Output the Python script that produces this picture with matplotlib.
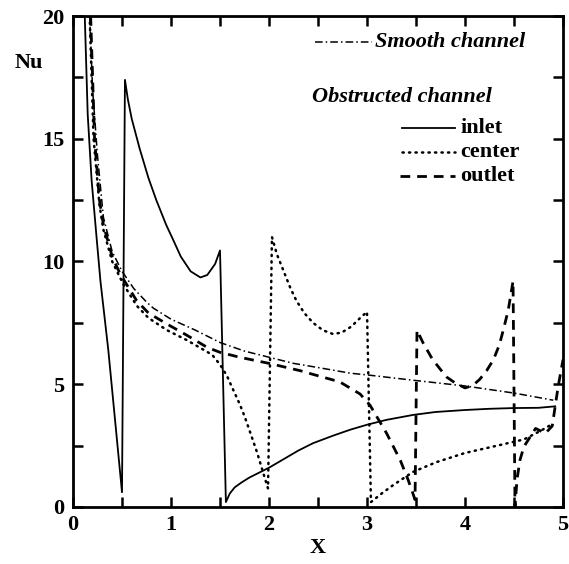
import matplotlib
matplotlib.use("Agg")
import matplotlib.pyplot as plt
from matplotlib.lines import Line2D
from matplotlib.ticker import MultipleLocator

plt.rcParams['font.family'] = ['Liberation Serif', 'DejaVu Serif']
plt.rcParams['font.weight'] = 'bold'

# ---- data ----
smooth_x = [0.17, 0.20, 0.25, 0.31, 0.40, 0.50, 0.62, 0.75, 0.82, 1.00, 1.25, 1.50,
            1.75, 2.00, 2.25, 2.50, 2.83, 3.00, 3.50, 4.00, 4.50, 4.90]
smooth_y = [20.0, 17.0, 14.3, 11.8, 10.4, 9.6, 8.9, 8.35, 8.1, 7.65, 7.2, 6.7,
            6.35, 6.1, 5.85, 5.68, 5.45, 5.38, 5.15, 4.93, 4.64, 4.35]

inlet_x = [0.12, 0.15, 0.19, 0.24, 0.28, 0.36, 0.50, 0.53, 0.56, 0.60, 0.68, 0.77,
           0.85, 0.95, 1.02, 1.10, 1.20, 1.30, 1.37, 1.45, 1.50, 1.56, 1.60, 1.65,
           1.72, 1.80, 1.90, 2.00, 2.15, 2.30, 2.45, 2.65, 2.83, 3.00, 3.20, 3.47,
           3.70, 4.00, 4.25, 4.50, 4.75, 4.92]
inlet_y = [20.0, 16.0, 13.3, 11.0, 9.2, 6.4, 0.6, 17.4, 16.6, 15.8, 14.6, 13.4,
           12.5, 11.5, 10.9, 10.2, 9.6, 9.35, 9.45, 9.9, 10.45, 0.2, 0.55, 0.8,
           1.0, 1.2, 1.4, 1.6, 1.95, 2.3, 2.6, 2.9, 3.15, 3.35, 3.55, 3.75,
           3.87, 3.95, 4.0, 4.03, 4.04, 4.1]

center_x = [0.17, 0.21, 0.27, 0.31, 0.40, 0.51, 0.65, 0.77, 0.96, 1.16, 1.42, 1.50,
            1.57, 1.62, 1.70, 1.75, 1.82, 1.88, 1.94, 1.99, 2.03, 2.08, 2.15, 2.22,
            2.28, 2.36, 2.45, 2.55, 2.65, 2.74, 2.84, 2.93, 3.00, 3.04, 3.15, 3.27,
            3.47, 3.71, 4.00, 4.33, 4.60, 4.77, 4.90]
center_y = [20.0, 15.0, 12.3, 11.3, 10.0, 9.1, 8.2, 7.7, 7.2, 6.8, 6.2, 5.8,
            5.35, 4.9, 4.2, 3.7, 2.9, 2.2, 1.4, 0.75, 11.0, 10.3, 9.6, 8.9,
            8.4, 7.9, 7.5, 7.2, 7.05, 7.1, 7.35, 7.7, 7.95, 0.2, 0.55, 0.9,
            1.43, 1.83, 2.2, 2.5, 2.75, 3.1, 3.4]

outlet_x = [0.18, 0.22, 0.27, 0.31, 0.40, 0.48, 0.65, 0.77, 0.96, 1.16, 1.37, 1.50,
            1.70, 2.00, 2.32, 2.45, 2.72, 2.93, 3.03, 3.20, 3.34, 3.42, 3.49, 3.51,
            3.57, 3.67, 3.75, 3.81, 3.90, 4.00, 4.08, 4.15, 4.22, 4.29, 4.35, 4.39,
            4.44, 4.49, 4.51, 4.53, 4.56, 4.60, 4.72, 4.82, 4.89, 4.92, 4.95, 5.00]
outlet_y = [20.0, 15.0, 12.5, 11.5, 10.2, 9.5, 8.4, 7.9, 7.45, 7.0, 6.5, 6.3,
            6.1, 5.85, 5.55, 5.4, 5.1, 4.6, 4.15, 3.0, 1.9, 1.1, 0.3, 7.2,
            6.7, 6.0, 5.6, 5.3, 5.05, 4.85, 4.95, 5.2, 5.55, 6.0, 6.6, 7.2,
            8.0, 9.2, 0.0, 1.1, 1.9, 2.45, 3.2, 3.0, 3.3, 4.1, 4.9, 6.0]

x_ticks = [0, 1, 2, 3, 4, 5]
y_ticks = [0, 5, 10, 15, 20]

fig = plt.figure(figsize=(5.69, 5.64), dpi=100)
ax = fig.add_axes([0.1283, 0.1011, 0.8612, 0.8705])

lw = 1.3
smooth_style = dict(color='black', lw=1.1, dashes=(5, 2, 1, 2))
inlet_style = dict(color='black', lw=lw, linestyle='-')
center_style = dict(color='black', lw=1.8, dashes=(0.5, 2.1), dash_capstyle='round')
outlet_style = dict(color='black', lw=2.0, dashes=(3.5, 2.5))

ax.plot(smooth_x, smooth_y, **smooth_style)
ax.plot(inlet_x, inlet_y, **inlet_style)
ax.plot(center_x, center_y, **center_style)
ax.plot(outlet_x, outlet_y, **outlet_style)

ax.set_xlim(0, 5)
ax.set_ylim(0, 20)
ax.set_xticks(x_ticks)
ax.set_yticks(y_ticks)
ax.xaxis.set_minor_locator(MultipleLocator(0.5))
ax.yaxis.set_minor_locator(MultipleLocator(2.5))
ax.tick_params(which='both', direction='in', top=True, right=True,
               length=7, width=1.8, labelsize=16, pad=6)
for s in ax.spines.values():
    s.set_linewidth(2.0)

ax.set_xlabel('X', fontsize=16, fontweight='bold', labelpad=2)
ax.text(-0.062, 0.905, 'Nu', transform=ax.transAxes, fontsize=16,
        fontweight='bold', ha='right', va='center')

# legend (manual layout)
tr = ax.transAxes
ax.add_line(Line2D([0.494, 0.610], [0.947, 0.947], transform=tr, **smooth_style))
ax.text(0.616, 0.947, 'Smooth channel', transform=tr, fontsize=16,
        fontweight='bold', style='italic', ha='left', va='center')
ax.text(0.488, 0.835, 'Obstructed channel', transform=tr, fontsize=16,
        fontweight='bold', style='italic', ha='left', va='center')
ax.add_line(Line2D([0.672, 0.78], [0.772, 0.772], transform=tr, **inlet_style))
ax.text(0.79, 0.772, 'inlet', transform=tr, fontsize=16, fontweight='bold',
        ha='left', va='center')
ax.add_line(Line2D([0.672, 0.78], [0.723, 0.723], transform=tr, **center_style))
ax.text(0.79, 0.723, 'center', transform=tr, fontsize=16, fontweight='bold',
        ha='left', va='center')
ax.add_line(Line2D([0.668, 0.78], [0.674, 0.674], transform=tr, **outlet_style))
ax.text(0.79, 0.674, 'outlet', transform=tr, fontsize=16, fontweight='bold',
        ha='left', va='center')

fig.savefig('out.png', dpi=100)
